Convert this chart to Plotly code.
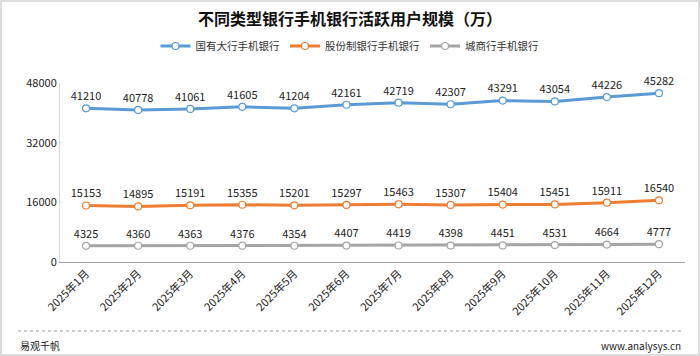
import plotly.graph_objects as go

months = ["2025年1月", "2025年2月", "2025年3月", "2025年4月", "2025年5月", "2025年6月",
          "2025年7月", "2025年8月", "2025年9月", "2025年10月", "2025年11月", "2025年12月"]
big_banks = [41210, 40778, 41061, 41605, 41204, 42161, 42719, 42307, 43291, 43054, 44226, 45282]
joint_stock = [15153, 14895, 15191, 15355, 15201, 15297, 15463, 15307, 15404, 15451, 15911, 16540]
city_banks = [4325, 4360, 4363, 4376, 4354, 4407, 4419, 4398, 4451, 4531, 4664, 4777]
series_names = ["国有大行手机银行", "股份制银行手机银行", "城商行手机银行"]
colors = ["#5B9BD5", "#ED7D31", "#A5A5A5"]
y_ticks = [0, 16000, 32000, 48000]

FONT = "Noto Sans CJK SC"
fig = go.Figure()
for name, vals, c in zip(series_names, [big_banks, joint_stock, city_banks], colors):
    fig.add_trace(go.Scatter(
        x=months, y=vals, name=name, mode="lines+markers+text",
        line=dict(color=c, width=3),
        marker=dict(size=7, color="white", line=dict(color=c, width=1.2)),
        text=[str(v) for v in vals], textposition="top center",
        textfont=dict(size=11, color="#222222", family=FONT),
        cliponaxis=False,
    ))

W, H = 700, 356
L, R, T, B = 60, 15, 83, 94
pw, ph = W - L - R, H - T - B

def px(x):
    return (x - L) / pw

def py(y):
    return (H - B - y) / ph

fig.update_layout(
    width=W, height=H,
    margin=dict(l=L, r=R, t=T, b=B, autoexpand=False),
    paper_bgcolor="white", plot_bgcolor="white",
    font=dict(family=FONT, size=11, color="#222222"),
    title=dict(text="<b>不同类型银行手机银行活跃用户规模（万）</b>", x=0.5, xanchor="center",
               xref="container", y=1 - 19 / H, yref="container", yanchor="middle",
               font=dict(size=16, color="#111111", family=FONT)),
    legend=dict(orientation="h", xref="container", yref="container", x=0.5, xanchor="center",
                y=1 - 46 / H, yanchor="middle", font=dict(size=10.5, color="#333333"),
                itemwidth=30, tracegroupgap=0),
    showlegend=True,
    xaxis=dict(showline=True, linecolor="#A6A6A6", linewidth=1, showgrid=False, automargin=False,
               tickangle=-45, ticks="", range=[-0.5, 11.5], tickfont=dict(size=11)),
    yaxis=dict(range=[0, 48000], tickvals=y_ticks, tickformat="d", showgrid=False, showline=True,
               automargin=False,
               linecolor="#D9D9D9", linewidth=1, ticks="inside", ticklen=3, tickcolor="#E5E5E5",
               tickfont=dict(size=11), zeroline=False),
    shapes=[
        dict(type="rect", xref="paper", yref="paper", x0=px(1), x1=px(699), y0=py(355), y1=py(1),
             line=dict(color="#DDDDDD", width=2), layer="below"),
        dict(type="line", xref="paper", yref="paper", x0=px(18), x1=px(683), y0=py(331), y1=py(331),
             line=dict(color="#999999", width=1, dash="dot")),
    ],
    annotations=[
        dict(text="易观千帆", xref="paper", yref="paper", x=px(18), y=py(345), xanchor="left",
             yanchor="middle", showarrow=False, font=dict(size=10, color="#222222")),
        dict(text="www.analysys.cn", xref="paper", yref="paper", x=px(683), y=py(345), xanchor="right",
             yanchor="middle", showarrow=False, font=dict(size=10, color="#222222")),
    ],
)

fig.write_html("out.html", config={"displayModeBar": False},
               post_script="document.body.style.margin='0';document.body.style.overflow='hidden';")
